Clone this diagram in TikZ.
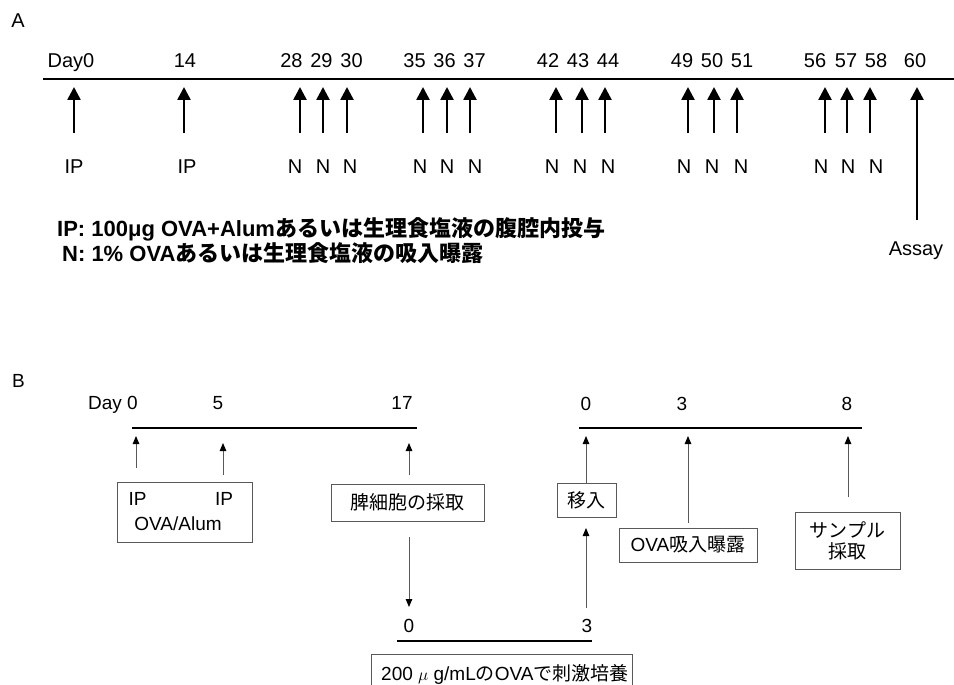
\documentclass[tikz,border=0pt]{standalone}
\usepackage{fontspec}
\setmainfont{Liberation Sans}
\newfontfamily\jp{Noto Sans CJK JP}
\usetikzlibrary{arrows.meta}
\begin{document}
\begin{tikzpicture}[x=1pt,y=-1pt,
  tl/.style={line width=2.7pt},
  numA/.style={font=\fontsize{20}{24}\selectfont, inner sep=0pt, anchor=base},
  numB/.style={font=\fontsize{19}{22}\selectfont, inner sep=0pt, anchor=base},
  leg/.style={font=\fontsize{22}{25}\selectfont\bfseries, inner sep=0pt, anchor=base west},
  bigarr/.style={line width=2.6pt, -{Triangle[width=13pt,length=13pt]}},
  thinarr/.style={draw=black!65, line width=1pt, -{Triangle[width=6.5pt,length=8pt,color=black]}},
  box/.style={draw=black!65, line width=1pt, inner sep=0pt, font=\jp\fontsize{19}{21}\selectfont, align=center}
]
\clip (0,0) rectangle (954,685);
\fill[white] (0,0) rectangle (954,685);

% ---------------- Panel A ----------------
\node[numA] (lA) at (18,28) {A};
\coordinate (tA0) at (43,79);
\coordinate (tA1) at (954,79);
\draw[tl] (tA0) -- (tA1);

\foreach \x/\t/\n in {71/Day0/d0, 185/14/d14, 291.5/28/d28, 321.5/29/d29, 351.5/30/d30,
  414.5/35/d35, 444.5/36/d36, 474.5/37/d37, 548/42/d42, 578/43/d43, 608/44/d44,
  682/49/d49, 712/50/d50, 742/51/d51, 815/56/d56, 846/57/d57, 876/58/d58, 915/60/d60}
  {\node[numA] (\n) at (\x,67) {\t};}

\foreach \x/\i in {74/a1, 184/a2, 300/a3, 323/a4, 347/a5, 423/a6, 447/a7, 470/a8,
  556/a9, 582/a10, 605/a11, 688/a12, 714/a13, 737/a14, 825/a15, 847/a16, 870/a17}
  {\coordinate (s\i) at (\x,133); \coordinate (h\i) at (\x,87);
   \draw[bigarr] (s\i) -- (h\i);}
\coordinate (sAs) at (917,220); \coordinate (hAs) at (917,87);
\draw[bigarr] (sAs) -- (hAs);

\foreach \x/\t/\n in {74/IP/i1, 187/IP/i2, 295/N/n1, 323/N/n2, 350/N/n3,
  420/N/n4, 447/N/n5, 475/N/n6, 552/N/n7, 580/N/n8, 608/N/n9,
  684/N/n10, 712/N/n11, 741/N/n12, 821/N/n13, 848/N/n14, 876/N/n15}
  {\node[numA] (\n) at (\x,173) {\t};}
\node[numA] (assay) at (916,255) {Assay};

\node[leg] (leg1) at (57,236) {IP: 100μg OVA+Alum{\jp あるいは生理食塩液の腹腔内投与}};
\node[leg] (leg2) at (62,261) {N: 1\% OVA{\jp あるいは生理食塩液の吸入曝露}};

% ---------------- Panel B ----------------
\node[numB] (lB) at (18.5,387) {B};

\coordinate (tB0) at (132,428); \coordinate (tB1) at (417,428);
\coordinate (tC0) at (397,641); \coordinate (tC1) at (592,641);
\coordinate (tD0) at (579,428); \coordinate (tD1) at (862,428);
\draw[tl] (tB0) -- (tB1);
\draw[tl] (tC0) -- (tC1);
\draw[tl] (tD0) -- (tD1);

\node[numB] (bd0) at (113,409) {Day 0};
\node[numB] (bd5) at (218,409) {5};
\node[numB] (bd17) at (402,409) {17};
\node[numB] (cd0) at (409,632) {0};
\node[numB] (cd3) at (587,632) {3};
\node[numB] (dd0) at (586,410) {0};
\node[numB] (dd3) at (682,410) {3};
\node[numB] (dd8) at (847,410) {8};

% box 1
\node[box, minimum width=135pt, minimum height=60pt] (box1) at (184.5,512) {};
\node[numB] (ip1) at (137.5,505) {IP};
\node[numB] (ip2) at (224,505) {IP};
\node[numB] (ova) at (178,530) {OVA/Alum};
\coordinate (a1s) at (136,468); \coordinate (a1h) at (136,436);
\coordinate (a2s) at (223,475); \coordinate (a2h) at (223,443);
\draw[thinarr] (a1s) -- (a1h);
\draw[thinarr] (a2s) -- (a2h);

% box 2
\node[box, minimum width=153pt, minimum height=37pt] (box2) at (407.5,502.5) {脾細胞の採取};
\coordinate (a3s) at (409,475); \coordinate (a3h) at (409,443);
\draw[thinarr] (a3s) -- (a3h);
\coordinate (a4s) at (409,537); \coordinate (a4h) at (409,607);
\draw[thinarr] (a4s) -- (a4h);

% bottom box (cut by the edge)
\node[box, minimum width=261pt, minimum height=36pt] (box3) at (501.5,672) {};
\node[numB, anchor=base west] (cult) at (381,680) {200 $\mu$ g/mL{\jp の}OVA{\jp で刺激培養}};

% transfer box
\node[box, minimum width=59pt, minimum height=34pt] (box4) at (586.5,500) {移入};
\coordinate (a8h) at (586,436);
\draw[thinarr] (box4.north -| a8h) -- (a8h);
\coordinate (a5s) at (586,608); \coordinate (a5h) at (586,528);
\draw[thinarr] (a5s) -- (a5h);

% OVA inhalation box
\node[box, minimum width=138pt, minimum height=34pt] (box5) at (688,545) {\fontspec{Liberation Sans}OVA\jp 吸入曝露};
\coordinate (a6s) at (688,523); \coordinate (a6h) at (688,436);
\draw[thinarr] (a6s) -- (a6h);

% sample box
\node[box, minimum width=105pt, minimum height=57pt] (box6) at (847.5,540.5) {サンプル\\採取};
\coordinate (a7s) at (848,497); \coordinate (a7h) at (848,436);
\draw[thinarr] (a7s) -- (a7h);
\end{tikzpicture}
\end{document}
